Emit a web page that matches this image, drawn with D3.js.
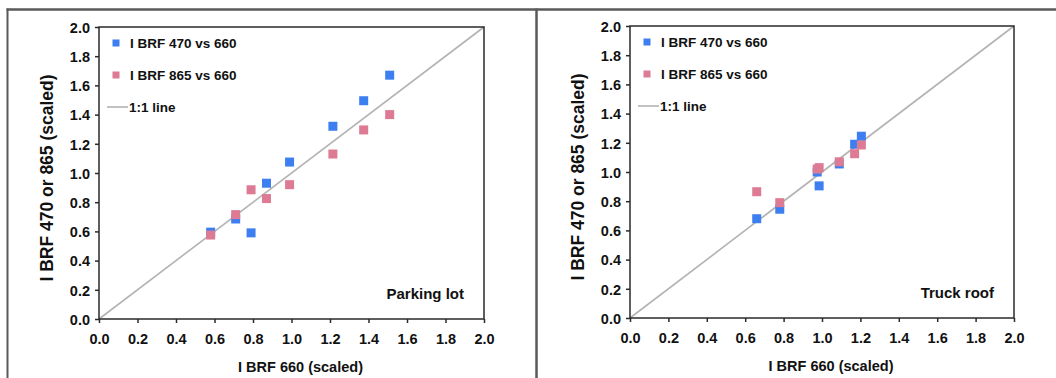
<!DOCTYPE html>
<html>
<head>
<meta charset="utf-8">
<script src="https://cdn.jsdelivr.net/npm/d3@7"></script>
<style>
  html, body { margin: 0; padding: 0; background: #fff; }
  svg { display: block; }
  text { font-family: "Liberation Sans", Arial, sans-serif; font-weight: bold; fill: #111; }
</style>
</head>
<body>
<svg id="chart" width="1056" height="378"></svg>
<script>
// ---- data ----
const tickValues = [0.0, 0.2, 0.4, 0.6, 0.8, 1.0, 1.2, 1.4, 1.6, 1.8, 2.0];
const legendLabels = ["I BRF 470 vs 660", "I BRF 865 vs 660", "1:1 line"];
const panelTitles = ["Parking lot", "Truck roof"];
const xTitle = "I BRF 660 (scaled)";
const yTitle = "I BRF 470 or 865 (scaled)";

// Parking lot
const parkingX    = [0.58, 0.71, 0.79, 0.87, 0.99, 1.215, 1.375, 1.51];
const parking470  = [0.595, 0.685, 0.59, 0.93, 1.075, 1.32, 1.495, 1.67];
const parking865  = [0.575, 0.715, 0.885, 0.825, 0.92, 1.13, 1.295, 1.40];

// Truck roof
const truckX    = [0.66, 0.78, 0.975, 0.985, 1.09, 1.17, 1.205];
const truck470  = [0.68, 0.745, 1.0, 0.905, 1.055, 1.19, 1.245];
const truck865  = [0.865, 0.79, 1.02, 1.03, 1.07, 1.125, 1.185];

// ---- styles ----
const BLUE = "#3d7ff0";
const PINK = "#de7b94";
const LINE = "#b3b3b3";
const AXIS = "#2a2a2a";
const FRAME = "#5a5a5a";

const svg = d3.select("#chart");

// outer frame
svg.append("line").attr("x1", 6.5).attr("x2", 1056).attr("y1", 9.5).attr("y2", 9.5)
  .attr("stroke", FRAME).attr("stroke-width", 2.5);
svg.append("line").attr("x1", 7.5).attr("x2", 7.5).attr("y1", 8.5).attr("y2", 378)
  .attr("stroke", FRAME).attr("stroke-width", 2);
svg.append("line").attr("x1", 536.5).attr("x2", 536.5).attr("y1", 8.5).attr("y2", 378)
  .attr("stroke", FRAME).attr("stroke-width", 2.5);

const panels = [
  { left: 99, top: 27, w: 385, h: 292, title: panelTitles[0], xs: parkingX, a: parking470, b: parking865 },
  { left: 630, top: 26, w: 384, h: 292, title: panelTitles[1], xs: truckX, a: truck470, b: truck865 }
];

panels.forEach(p => {
  const g = svg.append("g").attr("transform", `translate(${p.left},${p.top})`);
  const x = d3.scaleLinear().domain([0, 2]).range([0, p.w]);
  const y = d3.scaleLinear().domain([0, 2]).range([p.h, 0]);

  // 1:1 line
  g.append("line")
    .attr("x1", x(0)).attr("y1", y(0)).attr("x2", x(2)).attr("y2", y(2))
    .attr("stroke", LINE).attr("stroke-width", 1.6);

  // axes
  const xa = g.append("g").attr("transform", `translate(0,${p.h})`)
    .call(d3.axisBottom(x).tickValues(tickValues).tickFormat(d3.format(".1f")).tickSize(4).tickSizeOuter(0));
  const ya = g.append("g")
    .call(d3.axisLeft(y).tickValues(tickValues).tickFormat(d3.format(".1f")).tickSize(4).tickSizeOuter(0));
  [xa, ya].forEach(a => {
    a.select(".domain").remove();
    a.selectAll("line").attr("stroke", AXIS).attr("stroke-width", 1.5);
    a.selectAll("text").attr("font-size", 14.5).attr("font-family", "Liberation Sans, Arial, sans-serif")
      .attr("font-weight", "bold").attr("fill", "#111");
  });
  xa.selectAll("text").attr("dy", null).attr("y", 25);
  ya.selectAll("text").attr("x", -9).attr("dy", "0.36em");

  // frame
  g.append("rect").attr("x", 0).attr("y", 0).attr("width", p.w).attr("height", p.h)
    .attr("fill", "none").attr("stroke", AXIS).attr("stroke-width", 1.5);

  // points
  const s = 9;
  g.selectAll("rect.b470").data(p.xs.map((d, i) => [d, p.a[i]])).join("rect")
    .attr("class", "b470")
    .attr("x", d => x(d[0]) - s / 2).attr("y", d => y(d[1]) - s / 2)
    .attr("width", s).attr("height", s).attr("fill", BLUE);
  g.selectAll("rect.b865").data(p.xs.map((d, i) => [d, p.b[i]])).join("rect")
    .attr("class", "b865")
    .attr("x", d => x(d[0]) - s / 2).attr("y", d => y(d[1]) - s / 2)
    .attr("width", s).attr("height", s).attr("fill", PINK);

  // legend
  const lg = g.append("g");
  const colors = [BLUE, PINK];
  [0, 1].forEach(i => {
    const cy = 16 + i * 32;
    lg.append("rect").attr("x", 13.5).attr("y", cy - 3.5).attr("width", 7).attr("height", 7).attr("fill", colors[i]);
    lg.append("text").attr("x", 31).attr("y", cy).attr("dy", "0.36em").attr("font-size", 13.5).text(legendLabels[i]);
  });
  lg.append("line").attr("x1", 8).attr("x2", 29).attr("y1", 80).attr("y2", 80)
    .attr("stroke", LINE).attr("stroke-width", 1.6);
  lg.append("text").attr("x", 30).attr("y", 80).attr("dy", "0.36em").attr("font-size", 13.5).text(legendLabels[2]);

  // panel title
  g.append("text").attr("x", p.w - 20).attr("y", y(0.14)).attr("text-anchor", "end")
    .attr("font-size", 15).text(p.title);

  // axis titles
  g.append("text").attr("x", p.w / 2 + 9).attr("y", p.h + 53).attr("text-anchor", "middle")
    .attr("font-size", 15.5).attr("textLength", 125).attr("lengthAdjust", "spacingAndGlyphs").text(xTitle);
  g.append("text").attr("transform", `translate(-46,${p.h / 2 + 5}) rotate(-90)`)
    .attr("text-anchor", "middle").attr("font-size", 17.5)
    .attr("textLength", 207).attr("lengthAdjust", "spacingAndGlyphs").text(yTitle);
});
</script>
</body>
</html>
